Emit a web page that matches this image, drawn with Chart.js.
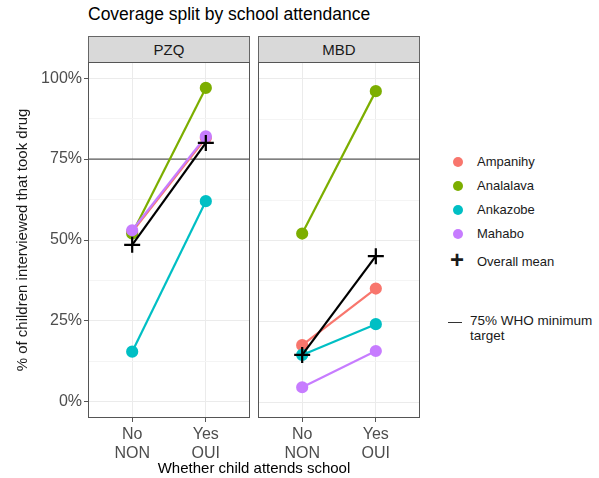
<!DOCTYPE html>
<html>
<head>
<meta charset="utf-8">
<script src="https://cdn.jsdelivr.net/npm/chart.js@4"></script>
<style>
  body { margin: 0; background: #fff; font-family: "Liberation Sans", Arial, sans-serif; }
  #wrap { position: relative; width: 599px; height: 478px; }
  .abs { position: absolute; }
  .title { left: 88px; top: 4px; font-size: 17.5px; color: #000; }
  .strip { top: 36px; height: 25px; width: 160px; background: #d9d9d9; border: 1px solid #666;
           font-size: 15px; color: #1a1a1a; text-align: center; line-height: 25px; }
  .xtitle { left: 88px; width: 332px; top: 459px; text-align: center; font-size: 15px; color: #000; }
  .leg { left: 450px; font-size: 13px; color: #1a1a1a; }
  .leg .row { position: absolute; left: 0; white-space: nowrap; }
  .leg .dot { position: absolute; left: 3px; width: 10px; height: 10px; border-radius: 50%; top: 3px; }
  .leg .lab { position: absolute; left: 27px; top: 0; }
</style>
</head>
<body>
<div id="wrap">
  <div class="abs title">Coverage split by school attendance</div>
  <div class="abs strip" style="left:88px">PZQ</div>
  <div class="abs strip" style="left:258px">MBD</div>
  <div class="abs" style="left:0;top:62px;width:250px;height:400px"><canvas id="pzqChart"></canvas></div>
  <div class="abs" style="left:258px;top:62px;width:162px;height:400px"><canvas id="mbdChart"></canvas></div>
  <div class="abs xtitle">Whether child attends school</div>
  <div class="abs leg" id="legend" style="top:154px"></div>
</div>
<script>
(function () {
    'use strict';

    /* Data */
    var xLabels = [['No', 'NON'], ['Yes', 'OUI']];
    var districts = ['Ampanihy', 'Analalava', 'Ankazobe', 'Mahabo'];
    var colors = ['#F8766D', '#7CAE00', '#00BFC4', '#C77CFF'];
    var yTicks = [0, 25, 50, 75, 100];
    var yMinor = [12.5, 37.5, 62.5, 87.5];
    var target = 75;

    var pzqAmpanihy = [52.5, 81.5];
    var pzqAnalalava = [52, 97];
    var pzqAnkazobe = [15.5, 62];
    var pzqMahabo = [53, 82];
    var pzqMean = [48.5, 80];

    var mbdAmpanihy = [17.5, 35];
    var mbdAnalalava = [52, 96];
    var mbdAnkazobe = [14.5, 24];
    var mbdMahabo = [4.5, 15.7];
    var mbdMean = [14.5, 45];

    var font = '"Liberation Sans", Arial, sans-serif';
    var xMin = 0.4, xMax = 2.6;

    function pts(vals) {
        return vals.map(function (v, i) { return { x: i + 1, y: v }; });
    }

    function datasets(series, mean) {
        var ds = series.map(function (vals, i) {
            return {
                label: districts[i], data: pts(vals), borderColor: colors[i], backgroundColor: colors[i],
                borderWidth: 2.2, pointRadius: 5, pointHoverRadius: 5, order: 4 - i, showLine: true
            };
        });
        ds.push({
            label: 'Overall mean', data: pts(mean), borderColor: '#000', backgroundColor: '#000',
            borderWidth: 2.2, pointStyle: 'cross', pointRadius: 8, pointBorderWidth: 2.2, order: 0, showLine: true
        });
        ds.push({
            label: 'target', data: [{ x: xMin, y: target }, { x: xMax, y: target }],
            borderColor: '#333', borderWidth: 1, pointRadius: 0, order: 6, showLine: true
        });
        return ds;
    }

    function noPad(s) {
        s.paddingTop = 0; s.paddingBottom = 0; s.paddingLeft = 0; s.paddingRight = 0;
    }

    var border = {
        id: 'panelBorder',
        afterDraw: function (c) {
            var a = c.chartArea, ctx = c.ctx;
            ctx.save();
            ctx.strokeStyle = '#555';
            ctx.lineWidth = 1;
            ctx.strokeRect(Math.round(a.left) + 0.5, Math.round(a.top) + 0.5,
                Math.round(a.right - a.left) - 1, Math.round(a.bottom - a.top) - 1);
            ctx.restore();
        }
    };

    function options(showY) {
        return {
            responsive: true, maintainAspectRatio: false, animation: false,
            layout: { padding: 0, autoPadding: false },
            plugins: { legend: { display: false }, tooltip: { enabled: false } },
            scales: {
                x: {
                    type: 'linear', min: xMin, max: xMax,
                    afterBuildTicks: function (s) { s.ticks = [{ value: 1 }, { value: 2 }]; },
                    afterFit: function (s) { s.height = 44; noPad(s); },
                    ticks: {
                        color: '#4d4d4d', font: { family: font, size: 16, lineHeight: 1.2 }, padding: 3,
                        maxRotation: 0, autoSkip: false,
                        callback: function (v) { return xLabels[v - 1]; }
                    },
                    grid: { color: '#ebebeb', tickColor: '#555', tickLength: 4, drawTicks: true },
                    border: { display: false }
                },
                y: {
                    display: showY, min: -5, max: 105,
                    afterBuildTicks: function (s) {
                        s.ticks = yTicks.concat(yMinor).map(function (v) { return { value: v }; });
                    },
                    afterFit: function (s) { if (showY) s.width = 88; noPad(s); },
                    ticks: {
                        display: showY, color: '#4d4d4d', font: { family: font, size: 16 }, padding: 2,
                        callback: function (v) { return yTicks.indexOf(v) >= 0 ? v + '%' : ''; }
                    },
                    grid: {
                        color: function (ctx) { return yTicks.indexOf(ctx.tick.value) >= 0 ? '#ebebeb' : '#f4f4f4'; },
                        tickColor: function (ctx) { return yTicks.indexOf(ctx.tick.value) >= 0 ? '#555' : 'rgba(0,0,0,0)'; },
                        tickLength: 4, drawTicks: showY
                    },
                    border: { display: false },
                    title: {
                        display: showY, text: '% of children interviewed that took drug',
                        color: '#1a1a1a', font: { family: font, size: 15 }, padding: { top: 14, bottom: 4 }
                    }
                }
            }
        };
    }

    new Chart(document.getElementById('pzqChart'), {
        type: 'scatter',
        data: { datasets: datasets([pzqAmpanihy, pzqAnalalava, pzqAnkazobe, pzqMahabo], pzqMean) },
        options: options(true),
        plugins: [border]
    });

    new Chart(document.getElementById('mbdChart'), {
        type: 'scatter',
        data: { datasets: datasets([mbdAmpanihy, mbdAnalalava, mbdAnkazobe, mbdMahabo], mbdMean) },
        options: options(false),
        plugins: [border, {
            id: 'ygrid',
            beforeDatasetsDraw: function (c) {
                // right panel shares the y grid of the left one
                var a = c.chartArea, ctx = c.ctx, y = c.scales.y;
                ctx.save();
                yTicks.concat(yMinor).forEach(function (v) {
                    var py = Math.round(y.getPixelForValue(v)) + 0.5;
                    ctx.strokeStyle = yTicks.indexOf(v) >= 0 ? '#ebebeb' : '#f4f4f4';
                    ctx.beginPath(); ctx.moveTo(a.left, py); ctx.lineTo(a.right, py); ctx.stroke();
                });
                ctx.restore();
            }
        }]
    });

    /* Legend (HTML) */
    var leg = document.getElementById('legend');
    var rows = '';
    districts.forEach(function (d, i) {
        rows += '<div class="row" style="top:' + (i * 24) + 'px"><span class="dot" style="background:' +
            colors[i] + '"></span><span class="lab">' + d + '</span></div>';
    });
    rows += '<div class="row" style="top:100px"><span style="position:absolute;left:0;top:-6px;font-size:24px;font-weight:bold;line-height:24px">+</span>' +
        '<span class="lab">Overall mean</span></div>';
    rows += '<div class="row" style="top:159px"><span style="position:absolute;left:-2px;top:9px;width:14px;height:1px;background:#333"></span>' +
        '<span class="lab" style="left:20px;line-height:15px;font-size:13.5px">75% WHO minimum<br>target</span></div>';
    leg.innerHTML = rows;
})();
</script>
</body>
</html>
